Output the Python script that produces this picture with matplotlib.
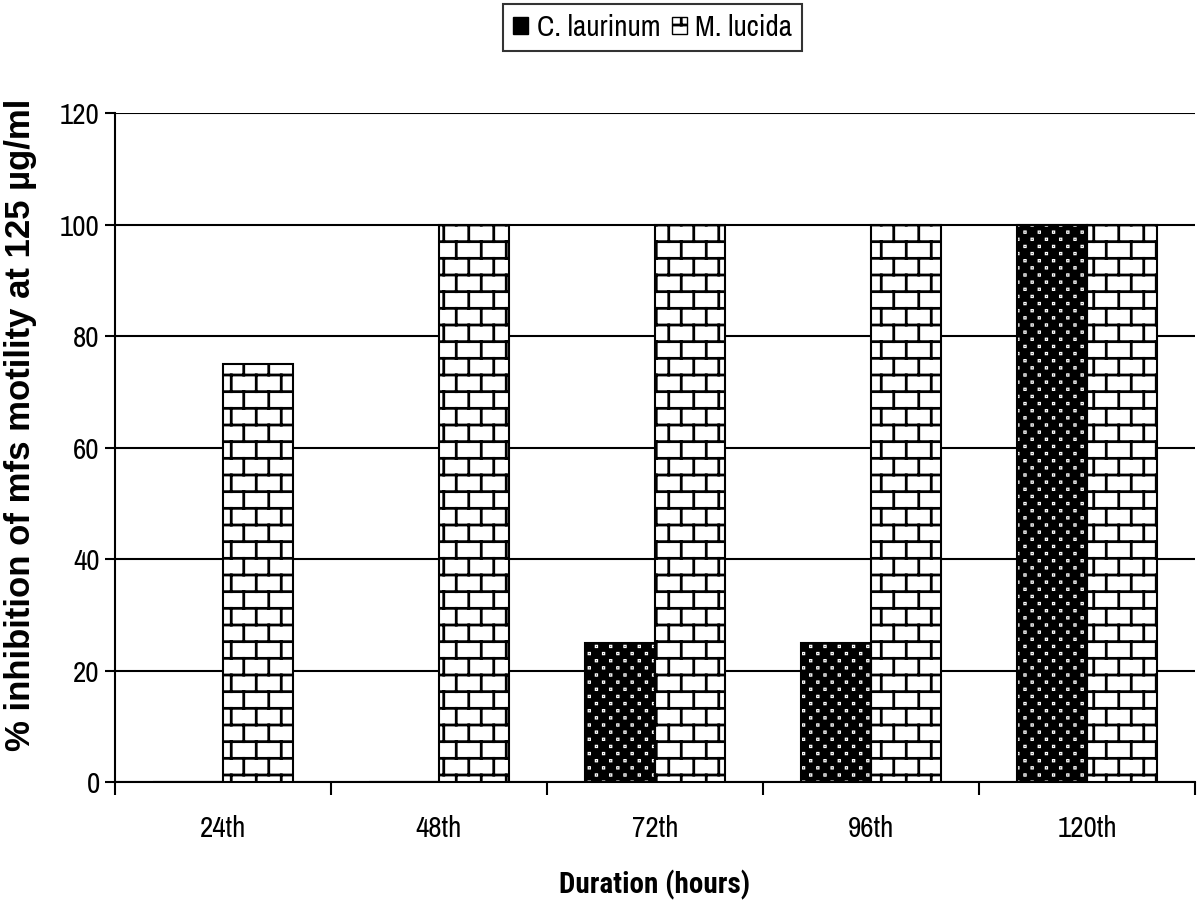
# -*- coding: utf-8 -*-
import warnings
import numpy as np
import matplotlib
matplotlib.use('Agg')
import matplotlib.pyplot as plt
import matplotlib.hatch as mhatch
from matplotlib.path import Path
from matplotlib.patches import Patch

warnings.filterwarnings('ignore')

# data
durations = ['24th', '48th', '72th', '96th', '120th']
c_laurinum = [0, 0, 25, 25, 100]
m_lucida = [75, 100, 100, 100, 100]


# custom hatches: 'b' = brick wall, 'd' = square dots
class BrickHatch(mhatch.HatchPatternBase):
	def __init__(self, hatch, density):
		n = hatch.count('b')
		self.segs = []
		if n:
			rows, cols = 6 * n, 4 * n
			for i in range(rows):
				y0 = (i + 0.5) / rows
				self.segs.append(((0.0, y0), (1.0, y0)))
				y1 = y0 + 1.0 / rows
				off = 0.25 if i % 2 == 0 else 0.75
				for j in range(cols):
					x = (j + off) / cols
					if y1 > 1.0:
						self.segs.append(((x, y0), (x, 1.0)))
						self.segs.append(((x, 0.0), (x, y1 - 1.0)))
					else:
						self.segs.append(((x, y0), (x, y1)))
		self.num_vertices = 2 * len(self.segs)

	def set_vertices_and_codes(self, vertices, codes):
		for k, (a, b) in enumerate(self.segs):
			vertices[2 * k] = a
			vertices[2 * k + 1] = b
			codes[2 * k] = Path.MOVETO
			codes[2 * k + 1] = Path.LINETO


class DotHatch(mhatch.HatchPatternBase):
	def __init__(self, hatch, density):
		n = hatch.count('d')
		self.pts = []
		if n:
			rows, cols = 14 * n, 7 * n
			for r in range(rows):
				y = (r + 0.5) / rows
				off = 0.25 if r % 2 == 0 else 0.75
				for j in range(cols):
					self.pts.append(((j + off) / cols, y))
		self.num_vertices = 5 * len(self.pts)

	def set_vertices_and_codes(self, vertices, codes):
		h = 0.003
		for k, (x, y) in enumerate(self.pts):
			vertices[5 * k:5 * k + 5] = [(x - h, y - h), (x + h, y - h),
			                            (x + h, y + h), (x - h, y + h), (x - h, y - h)]
			codes[5 * k] = Path.MOVETO
			codes[5 * k + 1:5 * k + 4] = Path.LINETO
			codes[5 * k + 4] = Path.CLOSEPOLY


mhatch._hatch_types.append(BrickHatch)
mhatch._hatch_types.append(DotHatch)

plt.rcParams['hatch.linewidth'] = 2.0
plt.rcParams['font.family'] = ['Archivo Narrow', 'Liberation Sans', 'DejaVu Sans']
bold_narrow = ['Roboto Condensed', 'Asap Condensed', 'Liberation Sans', 'DejaVu Sans']

fig = plt.figure(figsize=(12, 9))
ax = fig.add_axes([0.0958, 0.131, 0.9, 0.7434])

x = np.arange(len(durations))
w = 0.324

ax.bar(x - w / 2, c_laurinum, w, color='black', edgecolor='white', linewidth=0, hatch='d', zorder=3)
ax.bar(x - w / 2, c_laurinum, w, facecolor='none', edgecolor='black', linewidth=1.5, zorder=4)
ax.bar(x + w / 2, m_lucida, w, color='white', edgecolor='black', linewidth=1.5, hatch='b', zorder=3)

ax.set_xlim(-0.5, len(durations) - 0.5)
ax.set_ylim(0, 120)
ax.set_yticks(np.arange(0, 121, 20))
ax.yaxis.grid(True, color='black', linewidth=1.5, zorder=0)
ax.set_axisbelow(True)

ax.set_xticks(np.arange(-0.5, len(durations), 1))
ax.set_xticklabels([])
ax.set_xticks(x, minor=True)
ax.set_xticklabels(durations, minor=True)
ax.tick_params(axis='x', which='major', direction='out', length=9, width=1.5)
ax.tick_params(axis='x', which='minor', length=0, pad=24, labelsize=21)
ax.tick_params(axis='y', direction='out', length=7, width=1.5, labelsize=21, pad=4)

for s in ['top', 'right']:
	ax.spines[s].set_visible(False)
for s in ['left', 'bottom']:
	ax.spines[s].set_linewidth(1.5)

ax.set_xlabel('Duration (hours)', fontsize=21, fontweight='bold', family=bold_narrow, labelpad=20)
ax.set_ylabel(u'% inhibition of mfs motility at 125 µg/ml', fontsize=25, fontweight='bold',
              family=['Liberation Sans', 'DejaVu Sans'])
ax.yaxis.set_label_coords(-0.072, 0.534)

handles = [Patch(facecolor='black', edgecolor='black', hatch='d'),
           Patch(facecolor='white', edgecolor='black', hatch='b')]
leg = fig.legend(handles, ['C. laurinum', 'M. lucida'], loc='upper center',
                 bbox_to_anchor=(0.544, 0.996), ncol=2, fontsize=21, frameon=True,
                 fancybox=False, handlelength=0.5, handleheight=0.5, handletextpad=0.3,
                 columnspacing=0.4, borderpad=0.35, borderaxespad=0)
leg.get_frame().set_edgecolor('black')
leg.get_frame().set_linewidth(1.5)

plt.savefig('out.png', dpi=100)
